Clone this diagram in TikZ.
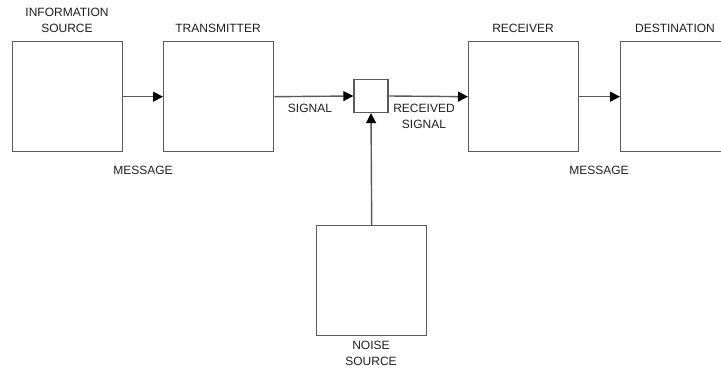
\documentclass[tikz,border=0pt]{standalone}
\usepackage{fontspec}
\setmainfont{Liberation Sans}
\usetikzlibrary{arrows.meta}
\definecolor{lc}{RGB}{90,90,90}
\definecolor{tc}{RGB}{30,30,30}
\begin{document}
\begin{tikzpicture}[x=1pt,y=-1pt,
  box/.style={draw=lc,line width=1.4pt,minimum width=110pt,minimum height=110pt,inner sep=0pt,anchor=north west},
  lbl/.style={text=tc,font=\fontsize{12}{16}\selectfont,align=center,inner sep=0pt},
  conn/.style={draw=lc,line width=1.4pt,-{Triangle[length=10pt,width=10pt,color=black]}}]
\useasboundingbox (0,0) rectangle (721,371);
\node[box] (info) at (12,41) {};
\node[box] (trans) at (163,41) {};
\node[box] (recv) at (468,41) {};
\node[box] (dest) at (620,41) {};
\node[box] (noise) at (316,225) {};
\node[draw=lc,line width=1.4pt,minimum width=34pt,minimum height=33pt,inner sep=0pt] (mix) at (371,96) {};
\draw[conn] (info.east) -- (trans.west);
\draw[conn] (trans.east) -- (mix.west);
\draw[conn] (mix.east) -- (recv.west);
\draw[conn] (recv.east) -- (dest.west);
\draw[conn] (noise.north) -- (mix.south);
\node[lbl] (tinfo) at (67,20) {INFORMATION\\SOURCE};
\node[lbl] (ttrans) at (218,28) {TRANSMITTER};
\node[lbl] (trecv) at (523,28) {RECEIVER};
\node[lbl] (tdest) at (675,28) {DESTINATION};
\node[lbl] (msg1) at (143,170) {MESSAGE};
\node[lbl] (msg2) at (599,170) {MESSAGE};
\node[lbl] (sig) at (310,108) {SIGNAL};
\node[lbl] (rsig) at (424,116) {RECEIVED\\SIGNAL};
\node[lbl] (tnoise) at (371,353) {NOISE\\SOURCE};
\end{tikzpicture}
\end{document}
